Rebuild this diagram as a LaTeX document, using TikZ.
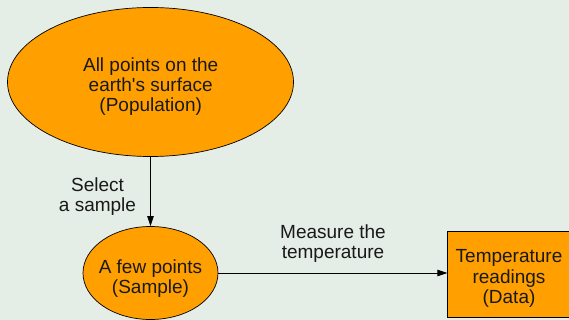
\documentclass[tikz,border=0pt]{standalone}
\usepackage{fontspec}
\setmainfont{Liberation Sans}
\usetikzlibrary{shapes.geometric,arrows.meta}
\definecolor{bgcol}{RGB}{228,237,230}
\definecolor{orangefill}{RGB}{255,160,0}
\tikzset{
  shapebox/.style={draw=black, line width=0.7pt, fill=orangefill, inner sep=0pt},
  oval/.style={shapebox, ellipse},
  txt/.style={font=\fontsize{19}{20.3}\selectfont, align=center, inner sep=0pt, text=black!90},
  conn/.style={draw=black, line width=0.8pt, -{Triangle[length=10pt,width=6.5pt]}}
}
\begin{document}
\begin{tikzpicture}[x=1pt,y=-1pt]
\fill[bgcol] (0,0) rectangle (569,320);
\useasboundingbox (0,0) rectangle (569,320);
\node[oval, minimum width=286pt, minimum height=149pt] (pop) at (150.5,82) {};
\node[oval, minimum width=135pt, minimum height=93pt] (sample) at (150.5,273) {};
\node[shapebox, rectangle, minimum width=122pt, minimum height=86pt] (data) at (508.75,274) {};
\node[txt] (poptxt) at (150.7,86.5) {All points on the\\earth\textquotesingle s surface\\(Population)};
\node[txt] (sampletxt) at (150.5,278.4) {A few points\\(Sample)};
\node[txt] (datatxt) at (509,278.5) {Temperature\\readings\\(Data)};
\node[txt] (selecttxt) at (97.5,196.9) {Select\\a sample};
\node[txt] (measuretxt) at (333,243.4) {Measure the\\temperature};
\draw[conn] (pop.south) -- (sample.north);
\draw[conn] (sample.east) -- (data.west |- sample.east);
\end{tikzpicture}
\end{document}
